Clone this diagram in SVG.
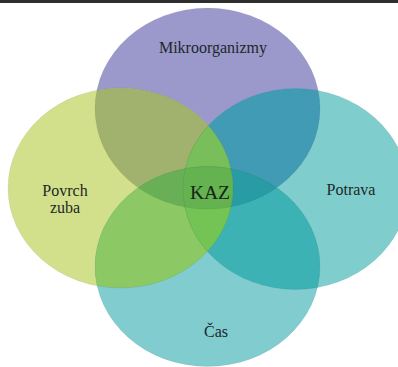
<svg xmlns="http://www.w3.org/2000/svg" width="398" height="367" viewBox="0 0 398 367">
<style>
.edge{fill:none;stroke:#000;stroke-opacity:0.06;stroke-width:1}
</style>
<defs>
<ellipse id="eP" cx="207.5" cy="108.5" rx="112.5" ry="100.5"/>
<ellipse id="eL" cx="120.5" cy="188" rx="112.5" ry="100"/>
<ellipse id="eR" cx="295.5" cy="189" rx="112.5" ry="100.5"/>
<ellipse id="eB" cx="207.5" cy="266.5" rx="112.5" ry="100"/>
<clipPath id="cP"><use href="#eP"/></clipPath>
<clipPath id="cL"><use href="#eL"/></clipPath>
<clipPath id="cR"><use href="#eR"/></clipPath>
<clipPath id="cB"><use href="#eB"/></clipPath>
</defs>
<rect x="0" y="0" width="398" height="367" fill="#ffffff"/>
<rect x="0" y="0" width="398" height="3" fill="#2e2e2e"/>
<g id="node-mikroorganizmy"><use href="#eP" fill="#9b98cb"/></g>
<g id="node-povrch-zuba"><use href="#eL" fill="#d3e08b"/></g>
<g id="node-potrava"><use href="#eR" fill="#80cdcd"/></g>
<g id="node-cas"><use href="#eB" fill="#80cccf"/></g>
<g id="overlaps">
<g clip-path="url(#cP)"><use href="#eL" fill="#a0b26e"/><use href="#eR" fill="#419bb4"/><use href="#eB" fill="#5fae7e"/></g>
<g clip-path="url(#cB)"><use href="#eL" fill="#8cc864"/><use href="#eR" fill="#3cb2b4"/></g>
<g clip-path="url(#cL)"><use href="#eR" fill="#76c058"/></g>
<g clip-path="url(#cP)"><g clip-path="url(#cL)"><use href="#eR" fill="#78be5a"/><use href="#eB" fill="#69af55"/></g></g>
<g clip-path="url(#cP)"><g clip-path="url(#cR)"><use href="#eB" fill="#289ba5"/></g></g>
<g clip-path="url(#cB)"><g clip-path="url(#cL)"><use href="#eR" fill="#73c355"/></g></g>
<g clip-path="url(#cP)"><g clip-path="url(#cB)"><g clip-path="url(#cL)"><use href="#eR" fill="#64b250"/></g></g></g>
</g>
<g id="outlines">
<use href="#eP" class="edge"/><use href="#eL" class="edge"/><use href="#eR" class="edge"/><use href="#eB" class="edge"/>
</g>
<g id="labels" font-family="Liberation Serif, Times New Roman, DejaVu Serif, serif" font-size="16" fill="#1c2828" text-anchor="middle">
<text x="213" y="53">Mikroorganizmy</text>
<text x="65" y="196">Povrch</text>
<text x="65" y="213">zuba</text>
<text x="351" y="195">Potrava</text>
<text x="216" y="337">Čas</text>
<text x="210" y="199" font-size="19.5" fill="#142414">KAZ</text>
</g>
</svg>
